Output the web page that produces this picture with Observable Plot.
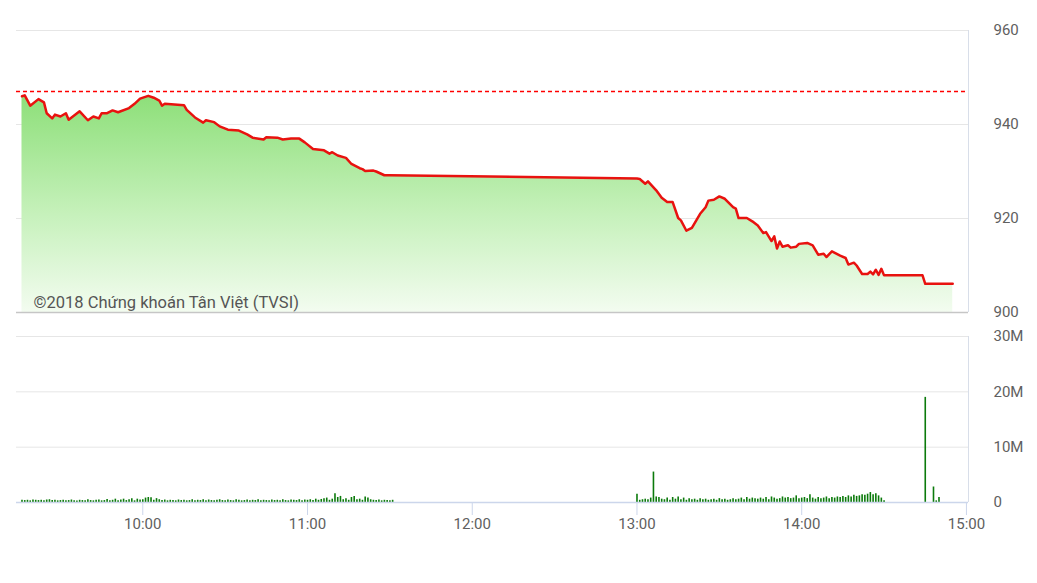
<!DOCTYPE html>
<html>
<head>
<meta charset="utf-8">
<script src="https://cdn.jsdelivr.net/npm/d3@7"></script>
<script src="https://cdn.jsdelivr.net/npm/@observablehq/plot@0.6"></script>
<style>
  html, body { margin: 0; padding: 0; background: #fff; }
  #chart { width: 1037px; height: 583px; overflow: hidden; }
</style>
</head>
<body>
<div id="chart"></div>
<script>
// ---------- DATA ----------
const priceTimes = ["9:16","9:17","9:19","9:22","9:24","9:25","9:27","9:28","9:30","9:32","9:33","9:37","9:40","9:42","9:44","9:45","9:47","9:49","9:51","9:55","9:57","9:59","10:02","10:04","10:06","10:07","10:08","10:15","10:16","10:19","10:22","10:23","10:26","10:28","10:31","10:35","10:38","10:40","10:44","10:45","10:49","10:51","10:54","10:57","10:59","11:02","11:06","11:08","11:09","11:11","11:14","11:16","11:19","11:20","11:21","11:24","11:25","11:28","11:30",
"13:00","13:01","13:03","13:04","13:07","13:09","13:11","13:13","13:15","13:16","13:18","13:20","13:23","13:25","13:26","13:28","13:30","13:32","13:35","13:36","13:37","13:40","13:42","13:44","13:46","13:47","13:49","13:50","13:51","13:52","13:53","13:55","13:56","13:58","13:59","14:02","14:04","14:06","14:08","14:09","14:11","14:14","14:16","14:17","14:19","14:20","14:22","14:24","14:25","14:26","14:27","14:28","14:29","14:30","14:44","14:45","14:55"];
const priceValues = [946.0,946.2,944.0,945.4,944.7,942.4,941.3,942.1,941.7,942.4,941.0,942.8,940.9,941.7,941.3,942.4,942.4,943.0,942.6,943.5,944.4,945.5,946.1,945.7,945.1,944.0,944.4,944.1,943.1,941.5,940.4,940.9,940.5,939.6,938.9,938.7,937.9,937.2,936.8,937.3,937.2,936.8,937.0,937.0,936.2,934.8,934.5,933.8,934.1,933.4,932.9,931.6,930.7,930.5,930.1,930.2,930.0,929.2,929.2,
928.5,928.4,927.4,927.9,926.0,924.4,923.5,923.5,920.1,919.6,917.4,918.0,921.0,922.4,923.8,924.0,924.7,924.2,922.4,922.1,920.1,920.1,919.4,918.5,916.9,917.1,915.2,916.2,913.6,915.1,914.0,914.3,913.8,914.0,914.6,914.8,914.3,912.3,912.5,911.8,913.0,912.1,911.6,910.2,910.6,910.0,908.2,908.2,908.7,908.1,909.1,908.0,909.3,907.9,907.9,906.1,906.1];
const referencePrice = 947.0;

// volume (millions), one value per minute
const morningStart = "9:16";
const morningVol = [0.4,0.35,0.4,0.3,0.45,0.4,0.35,0.4,0.3,0.45,0.5,0.35,0.4,0.3,0.35,
0.4,0.3,0.35,0.45,0.3,0.25,0.4,0.35,0.3,0.5,0.35,0.3,0.4,0.45,0.3,
0.35,0.55,0.3,0.4,0.6,0.3,0.45,0.6,0.35,0.5,0.7,0.3,0.6,0.45,0.5,
0.8,0.9,0.85,0.4,0.7,0.5,0.35,0.45,0.3,0.4,0.35,0.3,0.45,0.35,0.4,
0.3,0.35,0.5,0.3,0.4,0.35,0.5,0.3,0.45,0.35,0.3,0.4,0.5,0.35,0.3,
0.45,0.35,0.3,0.5,0.4,0.3,0.35,0.45,0.3,0.4,0.35,0.5,0.3,0.4,0.35,
0.3,0.45,0.35,0.4,0.3,0.5,0.35,0.3,0.45,0.4,0.35,0.5,0.3,0.45,0.4,
0.5,0.35,0.6,0.4,0.55,0.7,0.8,0.4,0.6,1.6,0.9,1.1,0.5,0.7,0.4,
0.9,1.1,0.5,0.6,0.4,1.0,0.8,0.5,0.4,0.35,0.45,0.3,0.4,0.35,0.3,0.4];
const afternoonStart = "13:00";
const afternoonVol = [1.5,0.4,0.5,0.6,0.5,0.8,5.5,1.0,0.9,0.6,0.5,0.8,0.4,0.9,0.6,
1.0,0.5,0.8,0.4,0.7,0.5,0.6,0.4,0.7,0.5,0.6,0.4,0.5,0.6,0.4,
0.7,0.5,0.6,0.4,0.5,0.7,0.5,0.6,0.8,0.5,0.9,0.6,0.8,0.7,0.6,
0.8,0.6,0.9,0.5,1.0,0.8,0.6,0.7,1.0,0.8,0.9,0.7,0.8,1.2,0.7,
0.8,0.9,0.7,1.4,0.8,0.6,0.9,0.7,0.8,1.0,0.7,0.9,0.8,1.0,0.9,
1.1,0.9,1.2,1.0,1.3,1.1,1.2,1.4,1.3,1.5,1.8,1.4,1.6,1.2,0.8,0.3];
const closeTimes = ["14:45","14:48","14:49","14:50"];
const closeVol = [19.0,2.8,0.3,0.9];

const hourTicks = ["10:00","11:00","12:00","13:00","14:00","15:00"];
const priceTicks = [900,920,940,960];
const volTicks = [0,10,20,30];
const caption = "©2018 Chứng khoán Tân Việt (TVSI)";

// ---------- BUILD ----------
const T = (s) => { const [h,m,sec] = s.split(":").map(Number); return new Date(Date.UTC(2018,0,2,h,m,sec||0)); };
const addMin = (s, i) => new Date(T(s).getTime() + i*60000);
const price = priceTimes.map((t,i) => ({t: T(t), v: priceValues[i]}));
const vol = [
  ...morningVol.map((v,i) => ({t: addMin(morningStart,i), v})),
  ...afternoonVol.map((v,i) => ({t: addMin(afternoonStart,i), v})),
  ...closeTimes.map((t,i) => ({t: T(t), v: closeVol[i]}))
];
const xDomain = [T("9:14:00"), T("15:00:45")];
const ticks = hourTicks.map(T);
const font = "Roboto, 'Open Sans', sans-serif";
const labelColor = "#606060";

const priceChart = Plot.plot({
  width: 1037, height: 320,
  marginTop: 30, marginBottom: 8, marginLeft: 16, marginRight: 69,
  style: {fontFamily: font, fontSize: "15px", color: labelColor, background: "transparent", overflow: "visible"},
  x: {type: "utc", domain: xDomain, axis: null},
  y: {domain: [900, 960], axis: null},
  marks: [
    Plot.ruleY(priceTicks.filter(d => d !== 900), {stroke: "#e6e6e6", strokeWidth: 1}),
    Plot.areaY(price, {x: "t", y1: 900, y2: "v", fill: "url(#priceGrad)", curve: "linear"}),
    Plot.ruleY([900], {stroke: "#c6c6c6", strokeWidth: 1.5}),
    Plot.ruleX([xDomain[1]], {stroke: "#d8dee9", strokeWidth: 1}),
    Plot.ruleY([referencePrice], {stroke: "#ff0000", strokeWidth: 1.5, strokeDasharray: "4,3"}),
    Plot.lineY(price, {x: "t", y: "v", stroke: "#e8120f", strokeWidth: 2.5, strokeLinejoin: "round"}),
    Plot.text([caption], {frameAnchor: "bottom-left", textAnchor: "start", lineAnchor: "bottom", dx: 17, dy: -5, fontSize: 16.5, fill: "#555", fontFamily: font}),
    Plot.axisY({anchor: "right", ticks: priceTicks, tickSize: 0, tickPadding: 25, label: null, fill: labelColor, fontSize: 15})
  ]
});

d3.select(priceChart).insert("defs", ":first-child").html(
  `<linearGradient id="priceGrad" x1="0" y1="0" x2="0" y2="1">
     <stop offset="0%" stop-color="#8ddf79"/>
     <stop offset="55%" stop-color="#c6f1bb"/>
     <stop offset="100%" stop-color="#f3fcf0"/>
   </linearGradient>`);

const volChart = Plot.plot({
  width: 1037, height: 263,
  marginTop: 16, marginBottom: 81, marginLeft: 16, marginRight: 69,
  style: {fontFamily: font, fontSize: "15px", color: labelColor, background: "transparent", overflow: "visible"},
  x: {type: "utc", domain: xDomain, axis: null},
  y: {domain: [0, 30], axis: null},
  marks: [
    Plot.ruleY(volTicks.filter(d => d !== 0), {stroke: "#e6e6e6", strokeWidth: 1}),
    Plot.ruleX([xDomain[1]], {stroke: "#d8dee9", strokeWidth: 1}),
    Plot.ruleX(vol, {x: "t", y1: 0, y2: "v", stroke: "#0b7a0b", strokeWidth: 1.6}),
    Plot.ruleY([0], {stroke: "#ccd6eb", strokeWidth: 1.5}),
    Plot.axisX({ticks: ticks, tickSize: 13, tickPadding: 3, tickFormat: d3.utcFormat("%H:%M"), label: null, stroke: "#ccd6eb", fill: labelColor, fontSize: 15}),
    Plot.axisY({anchor: "right", ticks: volTicks, tickSize: 0, tickPadding: 25, tickFormat: d => d === 0 ? "0" : d + "M", label: null, fill: labelColor, fontSize: 15})
  ]
});

const chart = document.getElementById("chart");
chart.appendChild(priceChart);
chart.appendChild(volChart);
</script>
</body>
</html>
